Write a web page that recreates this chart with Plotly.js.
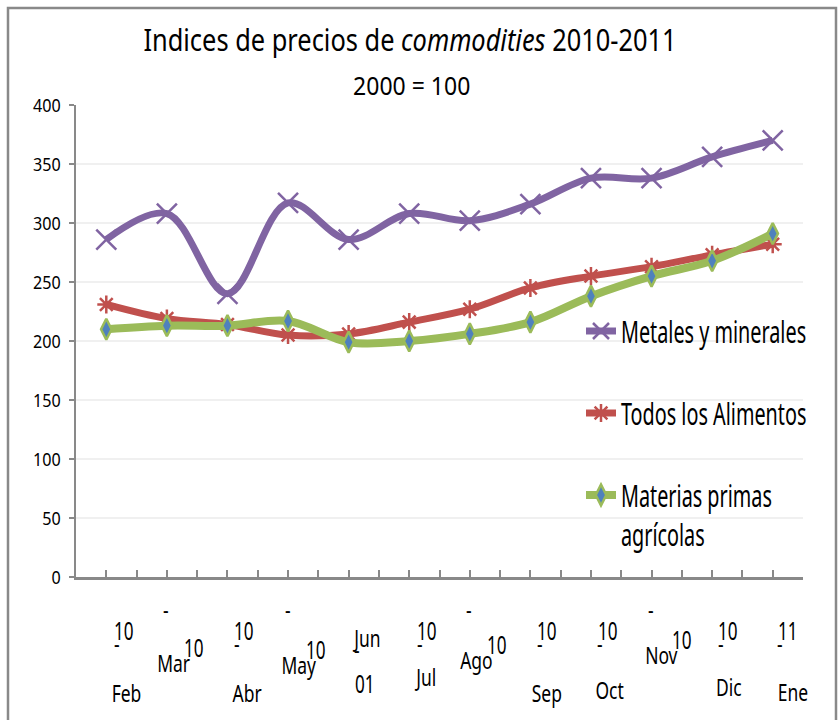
<!DOCTYPE html>
<html>
<head>
<meta charset="utf-8">
<script src="https://cdn.plot.ly/plotly-3.0.1.min.js"></script>
<style>
  html, body { margin: 0; padding: 0; background: #ffffff; overflow: hidden; }
  #chart { width: 839px; height: 720px; }
</style>
</head>
<body>
<div id="chart"></div>
<script>
// ---- Data ----
const months = ['Feb', 'Mar', 'Abr', 'May', 'Jun', 'Jul', 'Ago', 'Sep', 'Oct', 'Nov', 'Dic', 'Ene'];
const yearLabels = ['10', '10', '10', '10', '01', '10', '10', '10', '10', '10', '10', '11'];
const seriesNames = ['Metales y minerales', 'Todos los Alimentos', 'Materias primas<br>agrícolas'];
const metales = [286, 308, 240, 317, 286, 308, 302, 316, 338, 338, 356, 370];
const alimentos = [231, 219, 214, 205, 206, 216, 227, 245, 255, 263, 273, 282];
const materias = [210, 213, 213, 217, 199, 200, 206, 216, 238, 255, 268, 291];
const yTicks = [0, 50, 100, 150, 200, 250, 300, 350, 400];

// ---- Layout helpers ----
const W = 839, H = 720;
const M = { l: 76, r: 36, t: 105, b: 143, autoexpand: false };
const plotH = H - M.t - M.b, plotW = W - M.l - M.r;
const yPaper = py => (H - M.b - py) / plotH;
const xPaper = px => (px - M.l) / plotW;

const FONT = '"Noto Sans", "Open Sans", sans-serif';
const idx = months.map((_, i) => i);

const purple = '#8064A2', red = '#C0504D', green = '#9BBB59', blue = '#4F81BD';

const traces = [
  {
    x: idx, y: metales, name: seriesNames[0], type: 'scatter', mode: 'lines+markers',
    line: { color: purple, width: 7, shape: 'spline', smoothing: 1 },
    marker: { symbol: 'x-thin-open', size: 20, color: purple, line: { color: purple, width: 2.5 } },
    legendgroup: 'a'
  },
  {
    x: idx, y: alimentos, name: seriesNames[1], type: 'scatter', mode: 'lines+markers',
    line: { color: red, width: 7, shape: 'spline', smoothing: 1 },
    marker: { symbol: 'asterisk-open', size: 15, color: red, line: { color: red, width: 2.5 } },
    legendgroup: 'b'
  },
  {
    x: idx, y: materias, name: seriesNames[2], type: 'scatter', mode: 'lines+markers',
    line: { color: green, width: 8, shape: 'spline', smoothing: 1 },
    marker: { symbol: 'diamond-tall', size: 15, color: blue, line: { color: green, width: 2.5 } },
    legendgroup: 'c'
  }
];

// ---- Broken-looking category labels (as in reference) ----
const labelStyle = ['A', 'B', 'A', 'B', 'C', 'A', 'B', 'A', 'A', 'B', 'A', 'A'];
const monthY = [693, 663, 693, 665, 638, 677, 660, 693, 690, 655, 687, 692];
const monthDX = [20, 7, 20, 11, 18, 16, 7, 17, 19, 10, 17, 20];
const yearDX = [18, 27, 17, 28, 16, 18, 27, 17, 17, 30, 16, 15];
const monthFont = { family: FONT, size: 23, color: '#000000' };
const yearFont = { family: FONT, size: 26, color: '#000000' };
const annotations = [];
months.forEach((m, i) => {
  const st = labelStyle[i];
  const add = (text, dx, py, font) => annotations.push({
    text: text, xref: 'x', x: i, xshift: dx, yref: 'paper', y: yPaper(py),
    showarrow: false, xanchor: 'center', yanchor: 'middle', font: font
  });
  if (st === 'A') {
    add(yearLabels[i], yearDX[i], 630, yearFont);
    add('-', yearDX[i] - 8, 643, monthFont);
    add(m, monthDX[i], monthY[i], monthFont);
  } else if (st === 'B') {
    add('-', -1, 609, monthFont);
    add(m, monthDX[i], monthY[i], monthFont);
    add(yearLabels[i], yearDX[i], monthY[i] - 16, yearFont);
  } else {
    add(m, monthDX[i], monthY[i], monthFont);
    add('-', monthDX[i] - 10, 649, monthFont);
    add(yearLabels[i], yearDX[i], 683, yearFont);
  }
});

// subtitle
annotations.push({
  text: '2000 = 100', xref: 'paper', x: xPaper(411), yref: 'paper', y: yPaper(85),
  showarrow: false, xanchor: 'center', yanchor: 'middle',
  font: { family: FONT, size: 25, color: '#000000' }
});

const layout = {
  width: W, height: H,
  margin: M,
  paper_bgcolor: '#ffffff', plot_bgcolor: '#ffffff',
  font: { family: FONT, color: '#000000' },
  title: {
    text: 'Indices de precios de <i>commodities</i> 2010-2011',
    xref: 'container', x: 410 / W, xanchor: 'center',
    yref: 'container', y: 1 - 40 / H, yanchor: 'middle',
    font: { family: FONT, size: 31, color: '#000000' }
  },
  xaxis: {
    type: 'linear', range: [-0.5, months.length - 0.5],
    tickmode: 'linear', tick0: -0.5, dtick: 0.5,
    ticks: 'inside', ticklen: 7, tickwidth: 2, tickcolor: '#898989',
    showticklabels: false, showgrid: false, zeroline: false,
    showline: true, linecolor: '#898989', linewidth: 2.5, fixedrange: true
  },
  yaxis: {
    range: [0, 400], tickvals: yTicks, ticktext: yTicks.map(String),
    ticks: 'outside', ticklen: 5, tickwidth: 2, tickcolor: '#898989',
    ticklabelstandoff: 4,
    tickfont: { family: FONT, size: 19, color: '#000000' },
    showgrid: true, gridcolor: '#f0f0f0', gridwidth: 2.5,
    zeroline: false, showline: true, linecolor: '#898989', linewidth: 2.5, fixedrange: true
  },
  legend: {
    x: xPaper(581), xanchor: 'left', y: yPaper(305), yanchor: 'top',
    bgcolor: 'rgba(0,0,0,0)', borderwidth: 0,
    font: { family: FONT, size: 30, color: '#000000' },
    traceorder: 'grouped', tracegroupgap: 40, valign: 'top', itemwidth: 30
  },
  showlegend: true,
  annotations: annotations,
  shapes: [
    {
      type: 'rect', xref: 'paper', yref: 'paper',
      x0: xPaper(8), x1: xPaper(836), y0: yPaper(730), y1: yPaper(8),
      line: { color: '#898989', width: 2.5 }, fillcolor: 'rgba(0,0,0,0)', layer: 'below'
    }
  ]
};

// The reference uses a condensed face; squeeze text horizontally about its anchor.
function squeeze(el, s) {
  const ax = parseFloat(el.getAttribute('x')) || 0;
  const t = el.getAttribute('transform') || '';
  el.setAttribute('transform', (t + ' translate(' + ax + ',0) scale(' + s + ',1) translate(' + (-ax) + ',0)').trim());
}

const gd = document.getElementById('chart');
Plotly.newPlot(gd, traces, layout, { staticPlot: true, displayModeBar: false }).then(() => {
  gd.querySelectorAll('text.gtitle').forEach(el => squeeze(el, 0.82));
  gd.querySelectorAll('text.legendtext').forEach(el => squeeze(el, 0.66));
  gd.querySelectorAll('.ytick text').forEach(el => squeeze(el, 0.85));
  gd.querySelectorAll('text.annotation-text').forEach(el => {
    const txt = el.textContent;
    if (txt === '2000 = 100') squeeze(el, 0.92);
    else if (/^\d+$/.test(txt)) squeeze(el, 0.66);
    else squeeze(el, 0.76);
  });
});
</script>
</body>
</html>
